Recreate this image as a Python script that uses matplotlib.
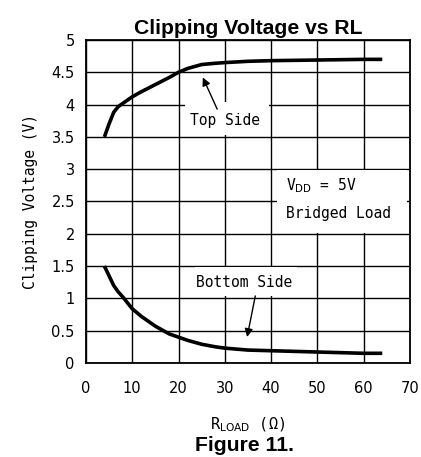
import numpy as np
import matplotlib.pyplot as plt
from matplotlib.patches import Rectangle

## Dati

r_top = [4, 5, 6, 7, 8, 10, 12, 15, 18, 20, 22, 25, 28, 30, 35, 40, 50, 60, 64]
v_top = [3.50, 3.70, 3.88, 3.97, 4.02, 4.12, 4.20, 4.31, 4.42, 4.50, 4.56, 4.62, 4.64, 4.65, 4.67, 4.68, 4.69, 4.70, 4.70]

r_bot = [4, 5, 6, 7, 8, 10, 12, 15, 18, 20, 22, 25, 28, 30, 35, 40, 50, 60, 64]
v_bot = [1.50, 1.35, 1.20, 1.10, 1.02, 0.84, 0.72, 0.57, 0.45, 0.40, 0.35, 0.29, 0.25, 0.23, 0.20, 0.19, 0.17, 0.15, 0.15]

x_ticks = [0, 10, 20, 30, 40, 50, 60, 70]
y_ticks = [0, 0.5, 1, 1.5, 2, 2.5, 3, 3.5, 4, 4.5, 5]
y_labels = ["0", "0.5", "1", "1.5", "2", "2.5", "3", "3.5", "4", "4.5", "5"]

mono = 'DejaVu Sans Mono'

## Figura

fig = plt.figure(figsize=(4.21, 4.57), dpi=100)
ax = fig.add_axes([0.204, 0.2057, 0.770, 0.7068])

ax.set_xlim(0, 70)
ax.set_ylim(0, 5)
ax.set_xticks(x_ticks)
ax.set_yticks(y_ticks)
ax.set_yticklabels(y_labels)
ax.tick_params(length=0, labelsize=10.5)
ax.tick_params(axis='x', pad=13)
ax.tick_params(axis='y', pad=8)
ax.grid(True, color='black', lw=1.0)
ax.set_axisbelow(True)
for s in ax.spines.values():
    s.set_linewidth(1.3)

ax.plot(r_top, v_top, color='black', lw=2.6, solid_capstyle='butt', zorder=3)
ax.plot(r_bot, v_bot, color='black', lw=2.6, solid_capstyle='butt', zorder=3)

# riquadro bianco per VDD
ax.add_patch(Rectangle((41.2, 2.02), 28.1, 0.96, facecolor='white', edgecolor='none', zorder=2))
ax.text(43.3, 2.75, "V$_{\\mathrm{DD}}$ = 5V", fontsize=10.5, family=mono, va='center', ha='left', zorder=4)
ax.text(43.3, 2.32, "Bridged Load", fontsize=10.5, family=mono, va='center', ha='left', zorder=4)

# etichette con frecce
ax.add_patch(Rectangle((21.5, 3.53), 18, 0.51, facecolor='white', edgecolor='none', zorder=2))
ax.text(30, 3.75, "Top Side", fontsize=10.5, family=mono, ha='center', va='center', zorder=4)
ax.annotate("", xy=(25.0, 4.46), xytext=(28.6, 3.89),
            arrowprops=dict(arrowstyle='-|>', color='black', lw=1.0, mutation_scale=12), zorder=4)

ax.add_patch(Rectangle((23.5, 1.03), 22, 0.46, facecolor='white', edgecolor='none', zorder=2))
ax.text(34.2, 1.25, "Bottom Side", fontsize=10.5, family=mono, ha='center', va='center', zorder=4)
ax.annotate("", xy=(34.7, 0.36), xytext=(36.7, 1.08),
            arrowprops=dict(arrowstyle='-|>', color='black', lw=1.0, mutation_scale=12), zorder=4)

ax.set_title("Clipping Voltage vs RL", fontsize=15.2, fontweight='bold',
             family='Liberation Sans', pad=4)
ax.set_ylabel("Clipping Voltage (V)", fontsize=10.5, family=mono, labelpad=10)
ax.set_xlabel("R$_{\\mathrm{LOAD}}$ (\u03a9)", fontsize=11, family=mono, labelpad=14)

fig.text(0.58, 0.026, "Figure 11.", fontsize=15.2, fontweight='bold',
         family='Liberation Sans', ha='center', va='center')

plt.savefig("out.png", dpi=100)
